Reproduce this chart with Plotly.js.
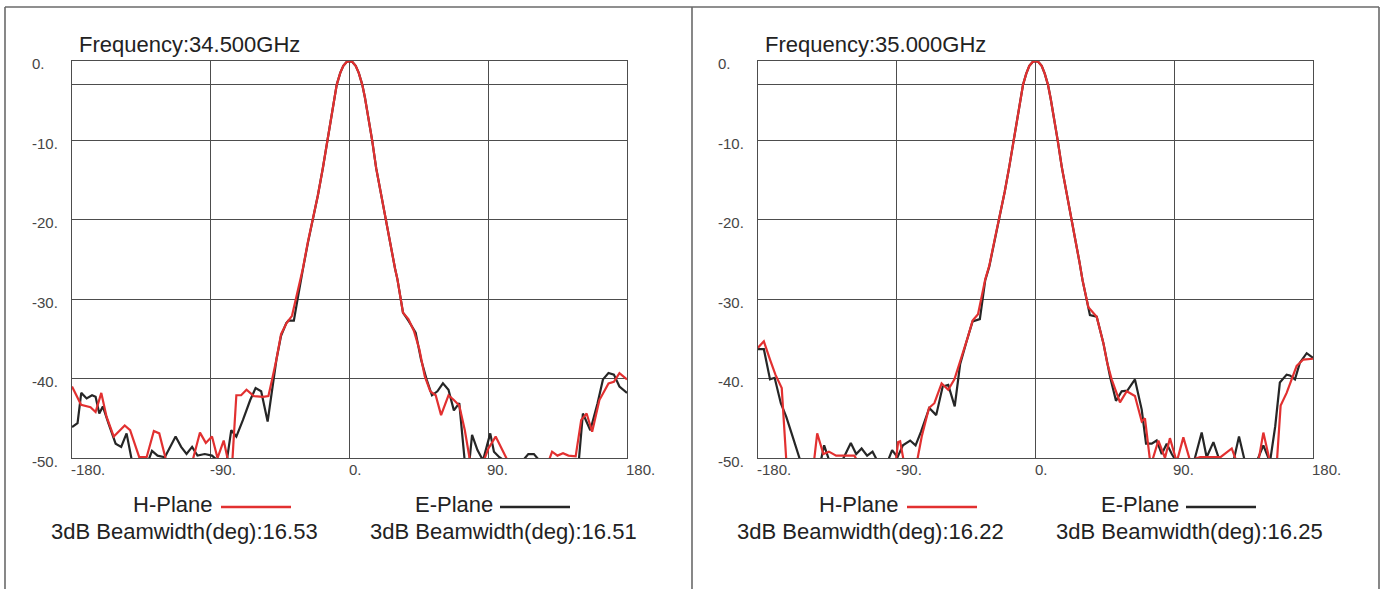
<!DOCTYPE html>
<html>
<head>
<meta charset="utf-8">
<script src="https://cdn.plot.ly/plotly-3.0.1.min.js"></script>
<style>
html,body{margin:0;padding:0;background:#fff;}
#chart{width:1386px;height:589px;}
</style>
</head>
<body>
<div id="chart"></div>
<script>
// ---------- data (angle in deg, level in dB) ----------
const freqLabels = ["Frequency:34.500GHz", "Frequency:35.000GHz"];
const hBeamwidth = ["16.53", "16.22"];
const eBeamwidth = ["16.51", "16.25"];
const xTickVals = [-180, -90, 0, 90, 180];
const xTickText = ["-180.", "-90.", "0.", "90.", "180."];
const yTickVals = [0, -10, -20, -30, -40, -50];
const yTickText = ["0.", "-10.", "-20.", "-30.", "-40.", "-50."];

// 34.5 GHz, H-plane
const h345Ang = [-180,-174.1,-168,-164.7,-161,-157.6,-152.9,-145.8,-142.3,-139,-136.4,-131.6,-126.9,-123.4,-118.7,-113,-106,-102,-97,-93.2,-89.2,-85.6,-81.6,-78.6,-76.5,-73.4,-70.3,-66.8,-62,-56.1,-52.6,-50.2,-47.4,-44.4,-40.8,-37.3,-34.9,-31.8,-30.3,-27,-23.8,-20.5,-17.3,-14.7,-12,-10,-8.3,-6,-4,-2,0,2,4,6,8.3,10,12,14.7,17.3,20.5,23.4,26.4,29.6,31.1,34.7,38.2,41.8,45.3,48.8,52.4,55.9,59.4,64.2,67.7,71.2,74.8,78.3,82,86.6,90.1,94.8,98.4,103,110,120,129,131.4,134.9,138.5,142,146.7,150.3,153.8,157.4,162.1,168,171.5,175.1,180];
const h345dB  = [-41,-43.3,-43.6,-44.2,-41.8,-44.8,-47.3,-45.9,-46.5,-48.5,-49.9,-49.9,-46.6,-46.9,-50.5,-53,-52,-50.5,-46.8,-48.1,-47.3,-50,-47.8,-50.5,-52,-42.1,-42.1,-41.4,-42.2,-42.3,-42.2,-40.1,-37.6,-34.4,-33,-32.1,-30,-27.5,-26.2,-22.8,-20,-16.9,-13.5,-10.3,-7,-4.8,-3,-1.5,-0.6,-0.15,0,-0.15,-0.6,-1.5,-3,-4.6,-6.8,-10,-13.5,-16.9,-20,-22.8,-26.2,-27.5,-31.7,-32.5,-34,-36.3,-39.7,-41.6,-42.1,-44.6,-42.1,-42.7,-43.4,-46.5,-50.5,-53,-50.5,-48.8,-47.3,-48.8,-50.5,-53,-53,-50.5,-49.2,-49.7,-49.4,-49.7,-49.8,-45.2,-44.4,-46.7,-42.7,-40.6,-40.4,-39.3,-40.1];

// 34.5 GHz, E-plane
const e345Ang = [-180,-176.4,-174,-170.5,-167,-164.7,-162.3,-160,-156.4,-151.7,-148.1,-144.6,-141,-135,-130.4,-128.1,-124.5,-119.8,-112.8,-109.2,-105.7,-102.1,-98.6,-93.9,-89.2,-85.6,-82,-79.7,-76.7,-73.4,-69.1,-64.4,-60.9,-57.3,-53.1,-50.2,-47.4,-44.4,-41,-39.6,-36.1,-33.7,-31.8,-30.3,-27,-23.8,-20.5,-17.3,-14.7,-12,-10,-8.3,-6,-4,-2,0,2,4,6,8.3,10,12,14.7,17.3,20.5,23.4,26.4,29.6,31.1,34.7,38.2,42.9,46.4,50,53.5,57,60.6,64.2,67.7,71.2,74.8,77,79.5,83,86.6,91.3,93.7,97.2,101.9,107,112.5,116,119.6,123.1,130,140,148,151.4,156.2,160.9,164.4,168,171.5,175.1,180];
const e345dB  = [-46.1,-45.6,-41.8,-42.5,-42.1,-42.3,-44.4,-43.5,-45.6,-48.2,-48.6,-46.9,-50.5,-52,-50.3,-49.1,-49.7,-49.9,-47.3,-48.6,-49.5,-48.6,-49.7,-49.5,-49.7,-50.3,-52,-50.5,-46.5,-47.3,-45.2,-42.7,-41.2,-41.6,-45.4,-41.4,-37.6,-34.6,-33,-32.7,-32.7,-30,-27.6,-26.3,-22.9,-20.1,-16.9,-13.5,-10.3,-7,-4.8,-3,-1.5,-0.6,-0.15,0,-0.15,-0.6,-1.5,-3,-4.6,-6.8,-10,-13.5,-16.9,-20,-22.8,-26.2,-27.5,-31.7,-32.7,-34.2,-37.6,-40.1,-42.1,-41.6,-40.6,-41.4,-44,-43.1,-50.5,-52,-47.1,-49,-50.3,-46.9,-49.2,-49.9,-50.5,-52,-50.3,-49.5,-49.5,-50.3,-53,-53,-52,-44.4,-46.5,-43.1,-40.1,-39.3,-39.5,-41,-41.8];

// 35.0 GHz, H-plane
const h350Ang = [-180,-176.2,-172.2,-168.7,-164.6,-161.1,-150,-144.6,-141.6,-137.6,-134,-129.3,-117.5,-114,-105,-95,-91,-89.1,-87.8,-84.9,-80,-77.4,-73.8,-69.1,-65.6,-60.9,-56.6,-52.6,-49.1,-44.4,-40.8,-37.3,-32.6,-30,-26.5,-23.3,-20,-17,-14.4,-11.8,-9.8,-8.1,-6,-4,-2,0,2,4,6,8.1,9.8,11.8,14.4,17,20,23,26,28.5,30.5,34.3,39.7,44,46.5,49.4,54.8,59.2,64.5,68.9,71,74.7,79.7,84,87.2,91.6,95.9,100.2,106.7,112.1,120,127.3,130.5,137,144.5,147.8,152.1,156.4,159,162.9,166.2,169.4,173.7,180];
const h350dB  = [-36.1,-35.3,-37.6,-39.5,-41.2,-52,-56,-52,-46.9,-49.5,-49.2,-49.7,-49.7,-51,-54,-53,-51,-48,-47.9,-51,-54,-51,-47.3,-43.7,-43.1,-40.6,-41.4,-40.1,-38,-35.1,-32.7,-31.9,-27.5,-25.8,-22.5,-19.7,-16.5,-13.3,-10.2,-7,-4.8,-3,-1.6,-0.6,-0.15,0,-0.15,-0.6,-1.6,-3,-4.7,-6.9,-10,-13.3,-16.6,-19.8,-22.7,-25.3,-27.6,-31,-32.2,-35.5,-38,-40.1,-43,-41.6,-42.2,-45.4,-45,-51,-47.8,-50,-47.5,-50.5,-47.4,-50.3,-49.9,-49.9,-49.9,-48.8,-50.5,-53,-50.5,-46.8,-50.5,-51,-43.4,-41.8,-40.1,-38.4,-37.6,-37.5];

// 35.0 GHz, E-plane
const e350Ang = [-180,-176.2,-172.2,-169.2,-165.2,-161.7,-158.2,-152.3,-146,-139.4,-137.1,-133.5,-127,-119.8,-116.3,-112.8,-109.2,-105.7,-102.2,-97,-93,-89.5,-86,-81.3,-77.8,-74.3,-68.9,-64.4,-60.2,-56.6,-52.4,-48.9,-44.4,-40.8,-36.1,-32.6,-30,-26.5,-23.3,-20,-17,-14.4,-11.8,-9.8,-8.1,-6,-4,-2,0,2,4,6,8.1,9.8,11.8,14.4,17,20,23,26,28.5,30.5,35.3,39.7,44,48.3,52.2,55.9,59.6,64.5,68.9,71.7,75.4,78.6,81.9,85.1,88.4,91.6,98.1,103,107.8,111,115.4,119.7,128.3,132,135.9,143.4,147.8,152.1,155.5,158.5,162.9,165,168.3,171.5,175.9,180];
const e350dB  = [-36.3,-36.3,-40.1,-39.9,-43.1,-44.8,-46.9,-50.5,-53,-50.5,-48.4,-50.5,-51,-48.1,-49.5,-48.8,-49.7,-49.2,-50.5,-51,-49,-49.9,-48.4,-47.8,-48.4,-46.7,-43.7,-44.6,-41,-40.8,-43.5,-38.2,-35.1,-32.8,-32.5,-27.6,-25.9,-22.6,-19.8,-16.5,-13.3,-10.2,-7,-4.8,-3,-1.6,-0.6,-0.15,0,-0.15,-0.6,-1.6,-3,-4.7,-6.9,-10,-13.3,-16.6,-19.8,-22.7,-25.3,-27.6,-32,-32.2,-35.5,-39.7,-42.8,-41.6,-41.5,-40.1,-43.9,-48.2,-48.2,-47.8,-49.5,-48.2,-49.5,-50.5,-50.5,-50.3,-46.8,-49.9,-48,-50.5,-50.5,-47.3,-50.5,-50.5,-48.4,-50.5,-46,-40.5,-39.5,-39.6,-40.1,-38,-36.8,-37.4];

// ---------- styling ----------
const W = 1386, H = 589;
const RED = "rgb(226,48,48)";
const BLK = "rgb(38,38,38)";
const FONT = "Liberation Sans, Arial, sans-serif";
const GRID = "#4d4d4d";

const px = v => v / W;
const py = v => 1 - v / H;

const traces = [
  {x: h345Ang, y: h345dB, xaxis: "x", yaxis: "y", mode: "lines", line: {color: RED, width: 2.2}, name: "H-Plane", showlegend: false},
  {x: e345Ang, y: e345dB, xaxis: "x", yaxis: "y", mode: "lines", line: {color: BLK, width: 2.2}, name: "E-Plane", showlegend: false},
  {x: h350Ang, y: h350dB, xaxis: "x2", yaxis: "y2", mode: "lines", line: {color: RED, width: 2.2}, name: "H-Plane", showlegend: false},
  {x: e350Ang, y: e350dB, xaxis: "x2", yaxis: "y2", mode: "lines", line: {color: BLK, width: 2.2}, name: "E-Plane", showlegend: false}
];
// draw E first so H (red) is on top like the reference
const ordered = [traces[1], traces[0], traces[3], traces[2]];

function xa(domain, anchor) {
  return {domain: domain, anchor: anchor, range: [-180, 180], tickvals: [-90, 0, 90],
    showticklabels: false, ticks: "", showgrid: true, gridcolor: GRID, gridwidth: 1,
    zeroline: false, showline: true, mirror: true, linecolor: GRID, linewidth: 1.2, fixedrange: true};
}
function ya(domain, anchor) {
  return {domain: domain, anchor: anchor, range: [-50, 0], tickvals: [-40, -30, -20, -10, -3],
    showticklabels: false, ticks: "", showgrid: true, gridcolor: GRID, gridwidth: 1,
    zeroline: false, showline: true, mirror: true, linecolor: GRID, linewidth: 1.2, fixedrange: true};
}

const yDom = [1 - 458 / H, 1 - 61 / H];
const panels = [
  {xr: "x", yr: "y", left: 72, right: 627},
  {xr: "x2", yr: "y2", left: 758, right: 1313}
];

const annotations = [];
const shapes = [];
const TICKFONT = {family: FONT, size: 15, color: "#454545"};
const BIGFONT = {family: FONT, size: 22, color: "#222222"};

panels.forEach((p, i) => {
  const off = p.left - 72;
  // x tick labels
  xTickVals.forEach((v, k) => {
    annotations.push({xref: p.xr, yref: p.yr + " domain", x: v, y: 0, text: xTickText[k],
      showarrow: false, xanchor: "left", yanchor: "top", xshift: -3, yshift: -1, font: TICKFONT});
  });
  // y tick labels
  yTickVals.forEach((v, k) => {
    annotations.push({xref: p.xr + " domain", yref: p.yr, x: 0, y: v, text: yTickText[k],
      showarrow: false, xanchor: "left", yanchor: "middle", xshift: -42, yshift: -3, font: TICKFONT});
  });
  // title
  annotations.push({xref: "paper", yref: "paper", x: px(77 + off), y: py(44), text: freqLabels[i],
    showarrow: false, xanchor: "left", yanchor: "middle", font: BIGFONT});
  // legend rows
  annotations.push({xref: "paper", yref: "paper", x: px(131 + off), y: py(504), text: "H-Plane",
    showarrow: false, xanchor: "left", yanchor: "middle", font: BIGFONT});
  annotations.push({xref: "paper", yref: "paper", x: px(413 + off), y: py(504), text: "E-Plane",
    showarrow: false, xanchor: "left", yanchor: "middle", font: BIGFONT});
  annotations.push({xref: "paper", yref: "paper", x: px(49 + off), y: py(531), text: "3dB Beamwidth(deg):" + hBeamwidth[i],
    showarrow: false, xanchor: "left", yanchor: "middle", font: BIGFONT});
  annotations.push({xref: "paper", yref: "paper", x: px(368 + off), y: py(531), text: "3dB Beamwidth(deg):" + eBeamwidth[i],
    showarrow: false, xanchor: "left", yanchor: "middle", font: BIGFONT});
  // legend line samples
  shapes.push({type: "line", xref: "paper", yref: "paper", x0: px(221 + off), x1: px(291 + off), y0: py(507), y1: py(507),
    line: {color: RED, width: 2.5}});
  shapes.push({type: "line", xref: "paper", yref: "paper", x0: px(500 + off), x1: px(570 + off), y0: py(507), y1: py(507),
    line: {color: BLK, width: 2.5}});
});

// outer frame lines
const FRAME = {color: "#6a6a6a", width: 1.6};
shapes.push({type: "line", xref: "paper", yref: "paper", x0: px(5), x1: px(1379), y0: py(7), y1: py(7), line: FRAME});
shapes.push({type: "line", xref: "paper", yref: "paper", x0: px(5), x1: px(5), y0: py(7), y1: 0, line: FRAME});
shapes.push({type: "line", xref: "paper", yref: "paper", x0: px(692), x1: px(692), y0: py(7), y1: 0, line: FRAME});
shapes.push({type: "line", xref: "paper", yref: "paper", x0: px(1379), x1: px(1379), y0: py(7), y1: 0, line: FRAME});

const layout = {
  width: W, height: H,
  margin: {l: 0, r: 0, t: 0, b: 0},
  paper_bgcolor: "#ffffff", plot_bgcolor: "#ffffff",
  showlegend: false,
  xaxis: xa([72 / W, 627 / W], "y"),
  yaxis: ya(yDom, "x"),
  xaxis2: xa([758 / W, 1313 / W], "y2"),
  yaxis2: ya(yDom, "x2"),
  annotations: annotations,
  shapes: shapes,
  font: {family: FONT}
};

Plotly.newPlot("chart", ordered, layout, {displayModeBar: false, staticPlot: true});
</script>
</body>
</html>
